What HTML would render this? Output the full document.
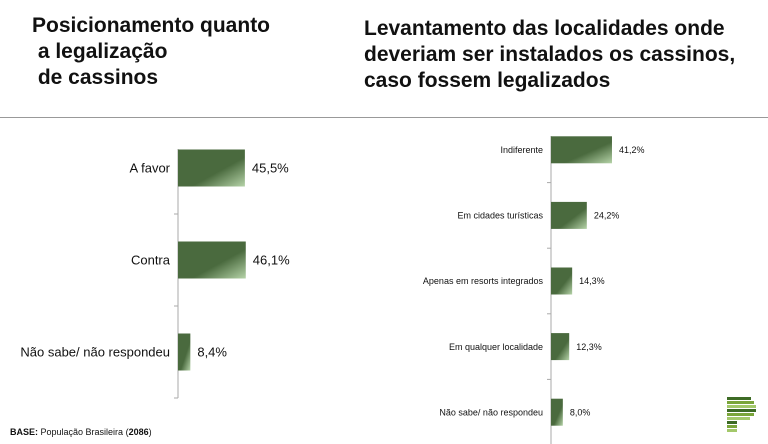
<!DOCTYPE html>
<html><head><meta charset="utf-8"><style>
body{margin:0;width:768px;height:444px;background:#fff;font-family:"Liberation Sans",sans-serif;overflow:hidden;position:relative}
.t{position:absolute;font-weight:bold;color:#111;line-height:26px}
</style></head><body>
<div class="t" style="left:32px;top:13px;font-size:21px">Posicionamento quanto<br>&nbsp;a legalização<br>&nbsp;de cassinos</div>
<div class="t" style="left:364px;top:16px;font-size:21px">Levantamento das localidades onde<br>deveriam ser instalados os cassinos,<br>caso fossem legalizados</div>
<div style="position:absolute;left:0;top:117px;width:768px;height:1px;background:#999"></div>
<svg width="768" height="444" style="position:absolute;left:0;top:0">
<defs><linearGradient id="g" x1="0" y1="0" x2="1" y2="1"><stop offset="0" stop-color="#4a6a3e"/><stop offset="0.6" stop-color="#4a6a3e"/><stop offset="1" stop-color="#b5d3a8"/></linearGradient></defs>
<g id="left"></g><g id="right"></g>
</svg>
<div style="position:absolute;left:10px;top:427px;font-size:9px;color:#111"><b>BASE:</b> População Brasileira (<b>2086</b>)</div>
<svg width="40" height="50" style="position:absolute;left:722px;top:392px">
<rect x="5" y="5" width="24" height="3" fill="#3d6b25"/><rect x="5" y="9" width="27" height="3" fill="#7aa53a"/><rect x="5" y="13" width="29" height="3" fill="#a3c86a"/><rect x="5" y="17" width="29" height="3" fill="#3d6b25"/><rect x="5" y="21" width="27" height="3" fill="#7aa53a"/><rect x="5" y="25" width="23" height="3" fill="#a3c86a"/><rect x="5" y="29" width="10" height="3" fill="#3d6b25"/><rect x="5" y="33" width="10" height="3" fill="#7aa53a"/><rect x="5" y="37" width="10" height="3" fill="#a3c86a"/>
</svg>
<script>
const leftCats=["A favor","Contra","Não sabe/ não respondeu"];
const leftVals=[45.5,46.1,8.4];
const leftLabels=["45,5%","46,1%","8,4%"];
const rightCats=["Indiferente","Em cidades turísticas","Apenas em resorts integrados","Em qualquer localidade","Não sabe/ não respondeu"];
const rightVals=[41.2,24.2,14.3,12.3,8.0];
const rightLabels=["41,2%","24,2%","14,3%","12,3%","8,0%"];
const NS="http://www.w3.org/2000/svg";
function mk(p,t,a){const e=document.createElementNS(NS,t);for(const k in a)e.setAttribute(k,a[k]);p.appendChild(e);return e;}
function chart(g,cats,vals,labels,o){
  const x=v=>o.x0+v*o.k, rowY=i=>o.top+i*o.step;
  const ax=mk(g,'line',{x1:o.x0,x2:o.x0,y1:o.axTop,y2:o.top+cats.length*o.step,stroke:'#aaa'});
  
  for(let i=1;i<=cats.length;i++){const t=mk(g,'line',{x1:o.x0-4,x2:o.x0,y1:rowY(i),y2:rowY(i),stroke:'#aaa'});
    }
  cats.forEach((c,i)=>{
    const cy=rowY(i)+o.step/2;
    const r=mk(g,'rect',{x:o.x0,y:cy-o.bh/2,width:x(vals[i])-o.x0,height:o.bh,fill:'url(#g)'});
    
    const l=mk(g,'text',{x:o.x0-8,y:cy+o.fs*0.35,'text-anchor':'end','font-size':o.fs,fill:'#111'});l.textContent=c;
    
    const v=mk(g,'text',{x:x(vals[i])+7,y:cy+o.fs*0.35,'font-size':o.fs,fill:'#111'});v.textContent=labels[i];
    
  });
}
chart(document.getElementById('left'),leftCats,leftVals,leftLabels,{n:'left',x0:178,k:1.47,top:122,axTop:149,step:92,bh:37,fs:13});
chart(document.getElementById('right'),rightCats,rightVals,rightLabels,{n:'right',x0:551,k:1.48,top:117,axTop:136,step:65.6,bh:27,fs:9});
</script>
</body></html>
